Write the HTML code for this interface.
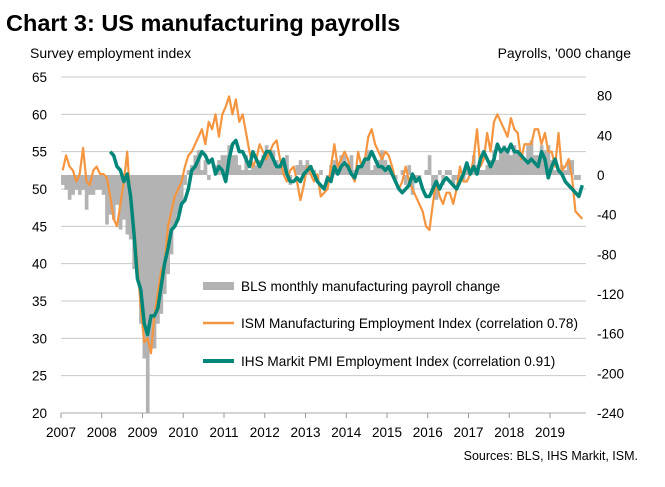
<!DOCTYPE html>
<html><head><meta charset="utf-8"><style>
body{margin:0;background:#fff;width:665px;height:482px;overflow:hidden;font-family:"Liberation Sans",Arial,sans-serif}
svg text{font-family:"Liberation Sans",Arial,sans-serif}
</style></head><body>
<svg id="c" width="665" height="482">
<text x="6" y="31" font-size="23.5" font-weight="bold" fill="#000">Chart 3: US manufacturing payrolls</text>
<text x="30" y="58" font-size="14" fill="#000">Survey employment index</text>
<text x="631" y="58" font-size="14" fill="#000" text-anchor="end">Payrolls, '000 change</text>
<text x="638" y="460" font-size="12.5" fill="#000" text-anchor="end">Sources: BLS, IHS Markit, ISM.</text>
<g id="grid"></g><g id="bars"></g><g id="lines"></g><g id="axes"></g>
<g>
<rect x="203" y="282" width="31" height="8" fill="#b3b3b3"/>
<text x="241" y="291" font-size="13.6">BLS monthly manufacturing payroll change</text>
<line x1="203" y1="323" x2="234" y2="323" stroke="#f5953f" stroke-width="2.5"/>
<text x="241" y="328" font-size="13.6">ISM Manufacturing Employment Index (correlation 0.78)</text>
<line x1="203" y1="361" x2="234" y2="361" stroke="#00877a" stroke-width="4"/>
<text x="241" y="366" font-size="13.6">IHS Markit PMI Employment Index (correlation 0.91)</text>
</g>
</svg>
<script>
const years=[2007,2008,2009,2010,2011,2012,2013,2014,2015,2016,2017,2018,2019];
const leftTicks=[20,25,30,35,40,45,50,55,60,65];
const rightTicks=[80,40,0,-40,-80,-120,-160,-200,-240];
const ism=[52.5,54.5,53,52.5,51,52,55.5,51,50.5,52.5,53,52,
52,51.5,49,46,45,48,51,55,48,45,40,34,
29.5,30,28,33,36,39,40,45,47,49,50,51,
53,54.5,55,56,57,58,56,59,58,60,57,60,
61,62.4,60,62,59,60,57.5,55,53,54,56,55,
54,55,56,56.5,54,52,51,52.5,53,51,48.5,50.5,
53,52,51,52,49,49.5,50,53,56,53,54,55,
54,52,51,55,53,54,57,58,56,55,54,55,
54.5,53,51,50,51,53,51,50,49,48,47,45,
44.5,48,51,49,48,49.5,49.5,48,50,53,51,51,
52,54,58,53,54,57.5,55,59,60,59,58,57,
59.5,58,57.5,54,56,56,56,58,58,56,57.5,55,
55,53,57.5,52.5,53,54,51.5,47,46.5,46];
const pmiStart=14;
const pmi=[55,54.5,53,52.5,51,52,49,44,38,36.5,
32,30.5,33,33,34,37,40,42,44.5,45,46,48,
48.5,50,52.5,53,54,55,54.5,53.5,54,52,53,52.5,
51,54,56,56.5,55,55,54,53,55,54,53,54,
55,55,54,53,53,54,52,51,51,51.5,51,52,
52.5,53,52,51,50.5,50,51.5,51,53,52,53,53.5,
53,52,51.5,53,53,54,54,55,54,53,53,52.5,
53,52,51,50,49.5,50,50.5,52,51,51.5,50,49,
49,50,51,50,51,51.5,51,50.5,50,51,52,53.5,
52,53,52,54,55,54,53,54,56,55,55.5,55,
56,55,55,54.5,54,53.5,54,53.5,53,55,54,51.5,
53,54,52.5,52,51,50.5,50,49.5,49,50.5];
const payrolls=[-10,-15,-25,-20,-15,-20,-15,-35,-20,-20,-15,-15,
-20,-50,-40,-45,-30,-55,-45,-60,-65,-95,-100,-150,
-185,-240,-175,-175,-150,-140,-120,-100,-80,-50,-40,-30,
-10,5,10,20,25,5,15,-5,0,10,15,20,
20,30,20,20,10,5,20,5,10,10,15,20,
30,25,25,15,10,10,20,-10,0,10,15,10,
15,10,5,-5,5,0,-10,10,15,10,20,20,
10,20,5,10,10,15,25,5,10,15,25,15,
10,5,-5,0,5,-10,10,-20,-5,-5,0,5,
20,-20,-25,5,-10,5,5,-10,-5,-5,-5,10,
5,20,10,5,5,10,15,25,15,25,30,25,
20,30,25,20,15,30,35,20,20,30,25,30,
15,5,5,10,5,15,15,-5,-5];
const NS="http://www.w3.org/2000/svg";
const X0=61,PX_Y=40.75,XR=586;
const xm=i=>X0+(i+0.5)*PX_Y/12;
const xy=y=>X0+(y-2007)*PX_Y;
const yl=v=>77+(65-v)*(336/45);
const yr=v=>175+(0-v)*(238/240);
function mk(t,a,p){const e=document.createElementNS(NS,t);for(const k in a)e.setAttribute(k,a[k]);document.getElementById(p).appendChild(e);return e;}
leftTicks.forEach(v=>{
 if(v>20){const g=mk('line',{x1:X0,x2:XR,y1:yl(v),y2:yl(v),stroke:'#c8c8c8','stroke-width':1},'grid');
 
 }
 const t=mk('text',{x:47,y:yl(v)+5,'font-size':13.5,'text-anchor':'end'},'axes');t.textContent=v;
 
 
});
rightTicks.forEach(v=>{
 const t=mk('text',{x:597,y:yr(v)+5,'font-size':13.5},'axes');t.textContent=v;
 
 
});
const ax=mk('line',{x1:X0,x2:XR,y1:413,y2:413,stroke:'#aaa','stroke-width':1},'axes');


years.forEach(y=>{
 const tk=mk('line',{x1:xy(y),x2:xy(y),y1:413,y2:418,stroke:'#999'},'axes');
 
 
 const t=mk('text',{x:xy(y),y:437,'font-size':13.5,'text-anchor':'middle'},'axes');t.textContent=y;
 
 
});
const bw=PX_Y/12;
payrolls.forEach((v,i)=>{
 const y0=yr(0),y1=yr(v);
 const r=mk('rect',{x:xm(i)-bw/2,y:Math.min(y0,y1),width:bw+0.3,height:Math.abs(y1-y0),fill:'#b3b3b3'},'bars');
 
 
});
const p1=mk('polyline',{points:ism.map((v,i)=>xm(i)+','+yl(v)).join(' '),fill:'none',stroke:'#f5953f','stroke-width':2.2,'stroke-linejoin':'round'},'lines');


const p2=mk('polyline',{points:pmi.map((v,i)=>xm(i+pmiStart)+','+yl(v)).join(' '),fill:'none',stroke:'#00877a','stroke-width':3.5,'stroke-linejoin':'round'},'lines');


</script>
</body></html>
